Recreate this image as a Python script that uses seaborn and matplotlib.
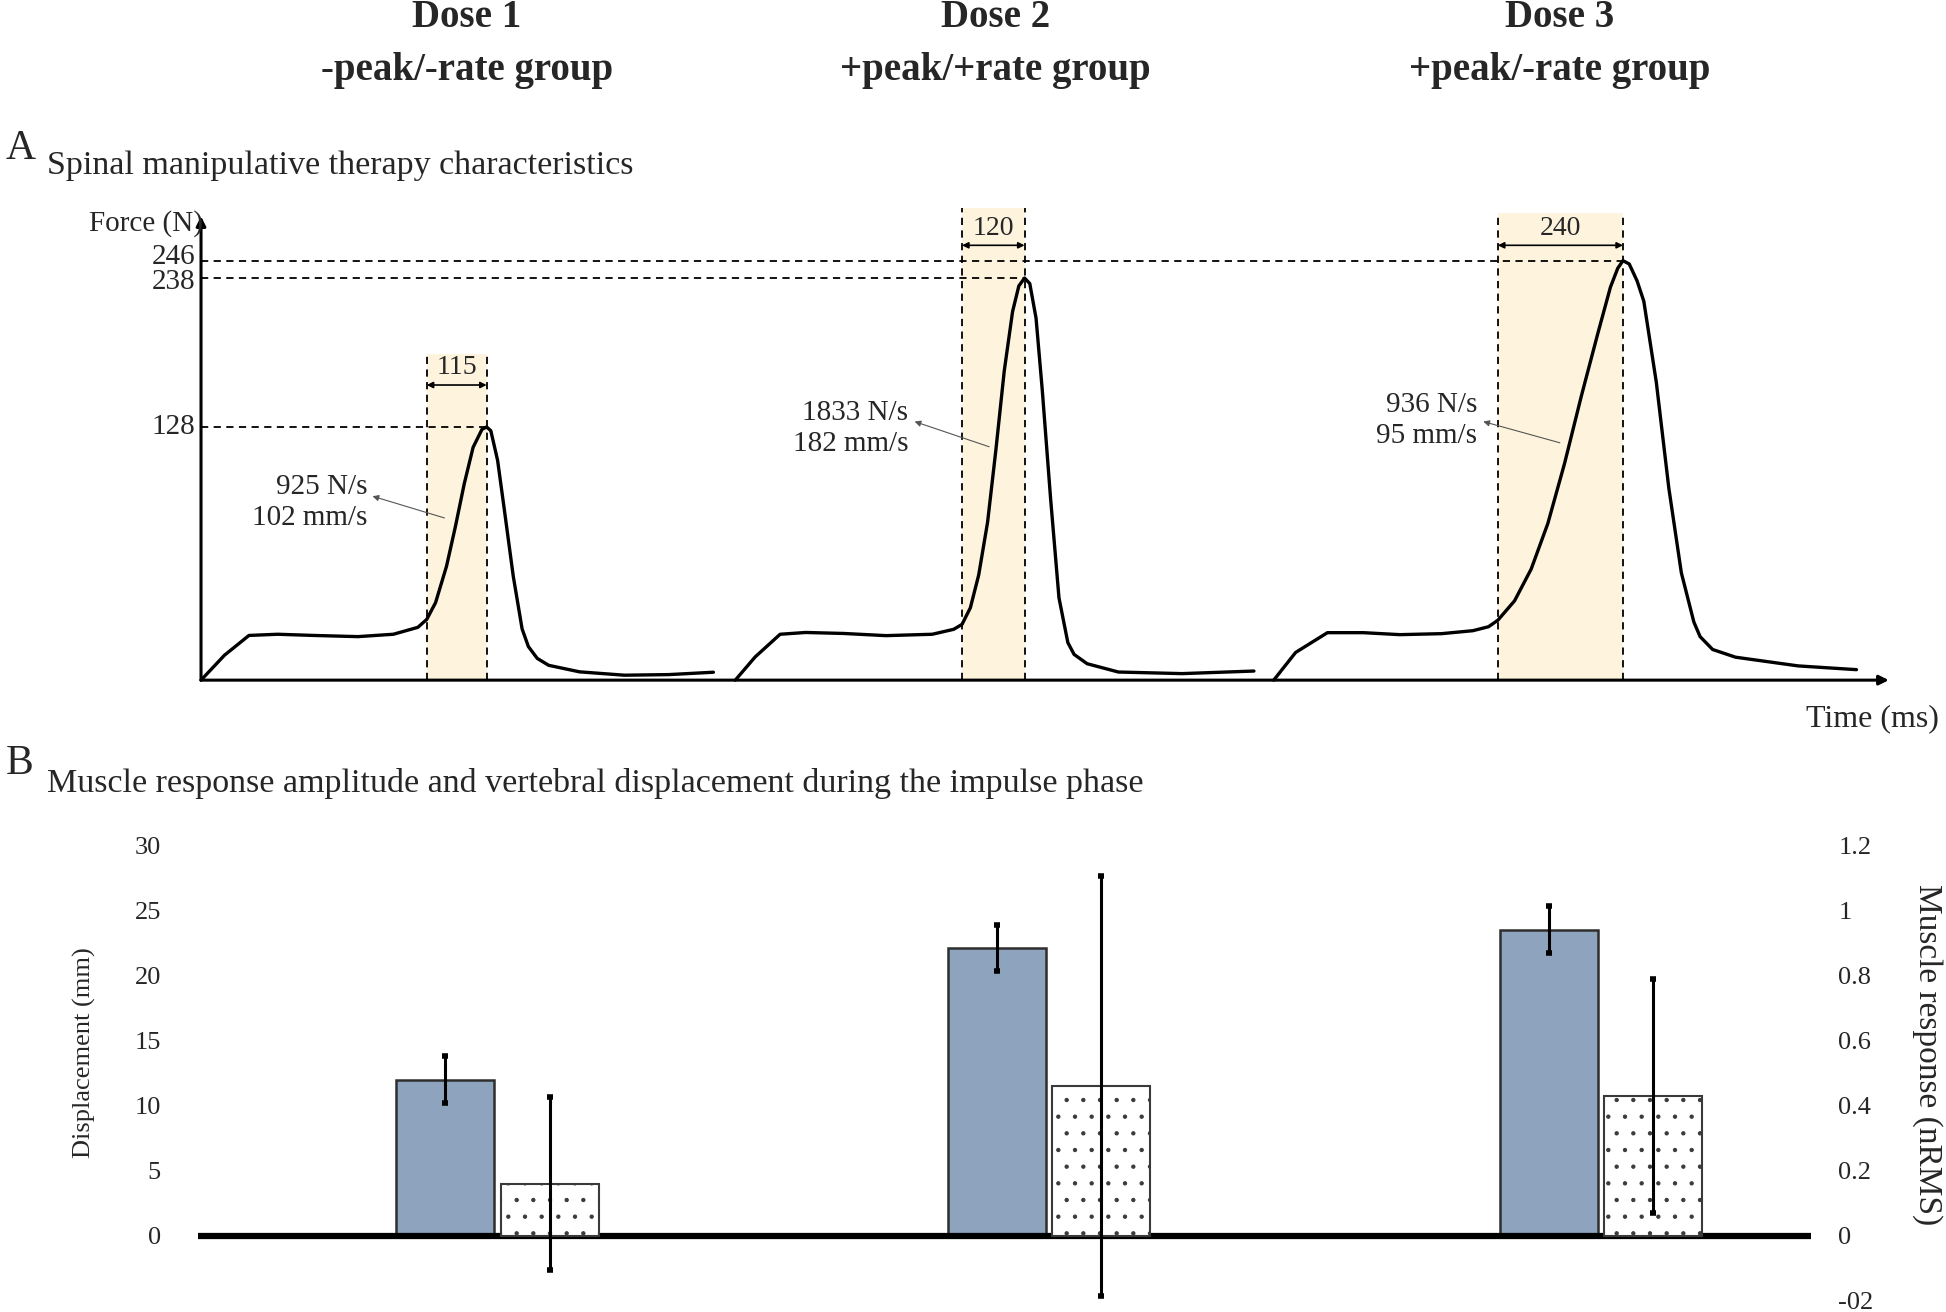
import numpy as np
import pandas as pd
import matplotlib
matplotlib.use('Agg')
import matplotlib.pyplot as plt
import seaborn as sns

# ---- header ----
doses = ['Dose 1', 'Dose 2', 'Dose 3']
groups = ['-peak/-rate group', '+peak/+rate group', '+peak/-rate group']

# ---- panel A: force-time profiles (schematic) ----
peak_force = [128, 238, 246]          # N
impulse_ms = [115, 120, 240]          # impulse duration
impulse_start = [433, 1460, 2488]     # ms on the schematic time axis
rate_labels = ['925 N/s\n102 mm/s', '1833 N/s\n182 mm/s', '936 N/s\n95 mm/s']

dose1_t = [0, 45, 92, 147, 216, 301, 369, 416, 433, 450, 471, 488, 505, 522, 539,
           548, 556, 569, 582, 599, 616, 628, 645, 667, 726, 812, 897, 983]
dose1_f = [0, 12.6, 22.6, 23.2, 22.6, 22, 23.2, 26.7, 30.7, 39.2, 57.6, 77.6, 99.3, 117.7, 126.8,
           128, 126.1, 111.1, 86, 52.6, 25.9, 17, 11, 7.5, 4.2, 2.5, 2.8, 4]

dose2_t = [1025, 1063, 1111, 1160, 1233, 1314, 1403, 1444, 1460, 1476, 1492, 1509, 1525,
           1541, 1557, 1569, 1580, 1590, 1602, 1614, 1630, 1646, 1663, 1675, 1700, 1760, 1882, 2020]
dose2_f = [0, 11.7, 23.2, 24.1, 23.6, 22.5, 23.2, 25.7, 28.2, 36.6, 53.2, 79.8, 116.5,
           169.4, 213.3, 232.2, 238, 233.9, 208.4, 155, 91.5, 41.6, 19, 13, 8.3, 4.1, 3.3, 4.6]

dose3_t = [2058, 2100, 2161, 2230, 2300, 2380, 2440, 2470, 2488, 2520, 2552, 2584, 2616,
           2648, 2680, 2704, 2718, 2728, 2740, 2755, 2768, 2792, 2816, 2840, 2864, 2876, 2900,
           2944, 3064, 3176]
dose3_f = [0, 14, 24, 24, 23, 23.5, 25, 27, 30.3, 40.1, 56.2, 79.3, 109.6,
           150.6, 197.4, 231.3, 242.5, 246, 244.5, 236, 220.9, 161, 97.1, 54.3, 29.4, 22, 15.5,
           11.6, 7.2, 5.3]

# ---- panel B: bars ----
displacement = [12.0, 22.1, 23.5]      # mm
displacement_sd = [1.8, 1.75, 1.8]
muscle = [0.16, 0.46, 0.43]            # nRMS
muscle_sd = [0.265, 0.645, 0.36]
muscle_ticks = [-0.2, 0, 0.2, 0.4, 0.6, 0.8, 1.0, 1.2]
muscle_ticklabels = ['-02', '0', '0.2', '0.4', '0.6', '0.8', '1', '1.2']

sns.set_style('white')
plt.rcParams['font.family'] = ['Liberation Serif', 'DejaVu Serif']
plt.rcParams['hatch.linewidth'] = 0.7
plt.rcParams['hatch.color'] = '#3a3a3a'

fig = plt.figure(figsize=(19.46, 13.12), dpi=100)

# header
for i in range(3):
    xc = [0.2398, 0.5115, 0.8017][i]
    fig.text(xc, 0.9868, doses[i], fontsize=28, weight='bold', ha='center', va='center')
    fig.text(xc, 0.946, groups[i], fontsize=28, weight='bold', ha='center', va='center')

fig.text(0.003, 0.8865, 'A', fontsize=30, ha='left', va='center')
fig.text(0.024, 0.874, 'Spinal manipulative therapy characteristics', fontsize=24.5,
         ha='left', va='center')
fig.text(0.003, 0.418, 'B', fontsize=30, ha='left', va='center')
fig.text(0.024, 0.403, 'Muscle response amplitude and vertebral displacement during the impulse phase',
         fontsize=24.5, ha='left', va='center')

# ---------------- panel A ----------------
axA = fig.add_axes([0.1033, 0.4816, 0.8673, 0.377])

# the drawing's force axis is not proportional: piecewise linear schematic scale
force_knots = [-100, 0, 128, 238, 246, 400]
height_knots = [-159, 0, 204, 324, 338, 550]

def fwd(v):
    return np.interp(v, force_knots, height_knots)

def inv(v):
    return np.interp(v, height_knots, force_knots)

axA.set_yscale('function', functions=(fwd, inv))

box_top = [182, 277, 274]
arrow_y = [159, 255, 255]
label_y = [172, 265, 265]
rate_from = [(467, 82), (1512, 118), (2607, 120)]
rate_to = [(329, 93), (1369, 132), (2460, 132)]
rate_txt = [(319, 90), (1357, 127), (2448, 133)]

for i in range(3):
    t0 = impulse_start[i]
    t1 = t0 + impulse_ms[i]
    axA.fill_between([t0, t1], 0, box_top[i], color='#FEF4DE', lw=0, zorder=0)
    axA.vlines([t0, t1], 0, box_top[i], colors='black', linestyles=(0, (4, 3)), lw=1.3, zorder=2)
    axA.hlines(peak_force[i], 0, t1, colors='black', linestyles=(0, (4, 3)), lw=1.3, zorder=2)
    axA.annotate('', xy=(t1, arrow_y[i]), xytext=(t0, arrow_y[i]),
                 arrowprops=dict(arrowstyle='<|-|>', lw=1.2, color='black',
                                 mutation_scale=9, shrinkA=0, shrinkB=0))
    axA.text((t0 + t1) / 2, label_y[i], str(impulse_ms[i]), fontsize=20,
             ha='center', va='center')
    axA.annotate('', xy=rate_to[i], xytext=rate_from[i],
                 arrowprops=dict(arrowstyle='-|>', lw=0.8, color='#555555',
                                 mutation_scale=9, shrinkA=0, shrinkB=0))
    axA.text(rate_txt[i][0], rate_txt[i][1], rate_labels[i], fontsize=21,
             ha='right', va='center', linespacing=1.25)

for t, f in [(dose1_t, dose1_f), (dose2_t, dose2_f), (dose3_t, dose3_f)]:
    sns.lineplot(x=t, y=f, ax=axA, color='black', lw=2.4, estimator=None,
                 sort=False, clip_on=False, zorder=4)

# axes as arrows
axA.annotate('', xy=(0, 272), xytext=(0, 0), annotation_clip=False,
             arrowprops=dict(arrowstyle='-|>', lw=2.2, color='black',
                             mutation_scale=14, shrinkA=0, shrinkB=0))
axA.annotate('', xy=(3238, 0), xytext=(0, 0), annotation_clip=False,
             arrowprops=dict(arrowstyle='-|>', lw=2.2, color='black',
                             mutation_scale=14, shrinkA=0, shrinkB=0))

axA.set_xlim(0, 3238)
axA.set_ylim(0, 290)
axA.set_xticks([])
axA.set_yticks([])
axA.minorticks_off()
# force tick labels, nudged apart like the drawing
for v, dy in zip(peak_force, [0, -2.5, 2.5]):
    axA.annotate(str(v), xy=(0, v), xycoords=('axes fraction', 'data'),
                 xytext=(-4, dy), textcoords='offset points', ha='right', va='center',
                 fontsize=21, annotation_clip=False)
for s in axA.spines.values():
    s.set_visible(False)
axA.patch.set_alpha(0)

fig.text(0.0459, 0.8297, 'Force (N)', fontsize=21, ha='left', va='center')
fig.text(0.9962, 0.4522, 'Time (ms)', fontsize=23, ha='right', va='center')

# ---------------- panel B ----------------
axB = fig.add_axes([0.1020, 0.0085, 0.8284, 0.3472])
axB2 = axB.twinx()

levels = ['Displacement', 'Muscle response']
pal = {'Displacement': '#8DA3BE', 'Muscle response': 'white'}
df_disp = pd.DataFrame({'dose': doses, 'measure': levels[0], 'value': displacement})
df_musc = pd.DataFrame({'dose': doses, 'measure': levels[1], 'value': muscle})

sns.barplot(data=df_disp, x='dose', y='value', hue='measure', hue_order=levels,
            palette=pal, width=0.378, gap=0.06, dodge=True, errorbar=None, saturation=1,
            edgecolor='#2e2e2e', linewidth=1.8, legend=False, ax=axB)
sns.barplot(data=df_musc, x='dose', y='value', hue='measure', hue_order=levels,
            palette=pal, width=0.378, gap=0.06, dodge=True, errorbar=None, saturation=1,
            edgecolor='#3a3a3a', linewidth=1.5, legend=False, ax=axB2)
for p in axB2.patches:
    p.set_hatch('.')

xs_d = sorted(p.get_x() + p.get_width() / 2 for p in axB.patches)
xs_m = sorted(p.get_x() + p.get_width() / 2 for p in axB2.patches)
axB.errorbar(xs_d, displacement, yerr=displacement_sd, fmt='none', ecolor='black',
             elinewidth=2.2, capsize=2.5, capthick=4, zorder=5)
axB2.errorbar(xs_m, muscle, yerr=muscle_sd, fmt='none', ecolor='black',
              elinewidth=2.2, capsize=2.5, capthick=4, zorder=5)
axB.axhline(0, color='black', lw=4.5, zorder=4)

axB.set_xlim(-0.542, 2.38)
axB.set_ylim(-5, 30)
axB.set_yticks(range(0, 31, 5))
axB2.set_ylim(-0.2, 1.2)
axB2.set_yticks(muscle_ticks)
axB2.set_yticklabels(muscle_ticklabels)
axB.set_xticks([])
for a in (axB, axB2):
    a.set_xlabel('')
    a.set_ylabel('')
    for s in a.spines.values():
        s.set_visible(False)
axB.tick_params(axis='y', length=0, pad=27, labelsize=19)
axB2.tick_params(axis='y', length=0, pad=20, labelsize=19)

fig.text(0.0434, 0.1977, 'Displacement (mm)', fontsize=19, rotation=90,
         ha='center', va='center')
fig.text(0.9904, 0.1958, 'Muscle response (nRMS)', fontsize=24, rotation=270,
         ha='center', va='center')

fig.savefig('out.png', dpi=100)
